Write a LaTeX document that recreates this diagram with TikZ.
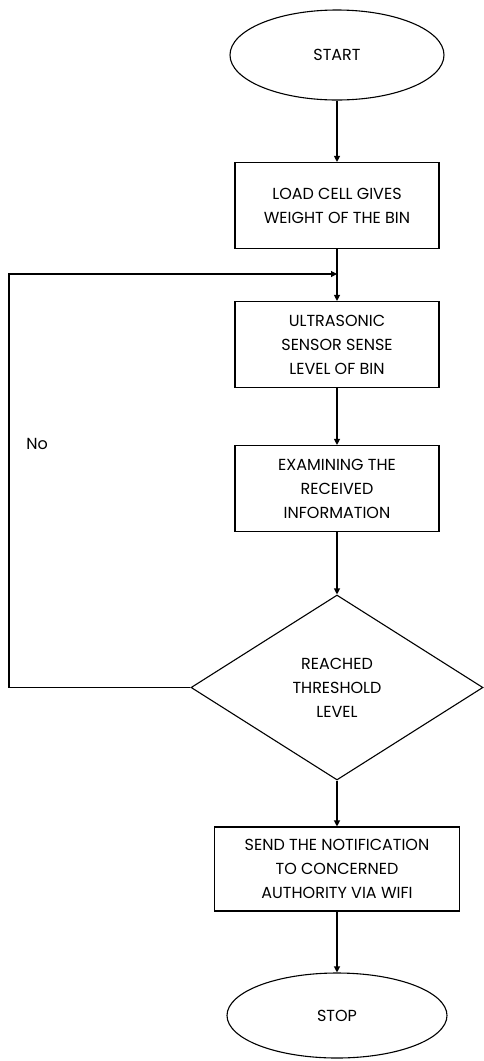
\documentclass[tikz,border=0pt]{standalone}
\usepackage{fontspec}
\setmainfont{Poppins}
\usepackage{tikz}
\usetikzlibrary{arrows.meta}
\usetikzlibrary{shapes,positioning}
\tikzset{>={Triangle[length=6pt,width=6pt]},
  stepbox/.style={draw,line width=1.1pt,align=center,
    minimum width=204pt,minimum height=86pt,inner sep=0pt},
  termnode/.style={draw,ellipse,line width=1.1pt,inner sep=0pt},
  decision/.style={draw,diamond,line width=1.1pt,align=center,inner sep=0pt,
    minimum width=292pt,minimum height=185pt}}

\begin{document}
\begin{tikzpicture}[font=\fontsize{16}{24}\selectfont,line width=1.1pt]
    \useasboundingbox (0pt,0pt) rectangle (484pt,-1061pt);

    \node (start) [termnode,minimum width=214pt,minimum height=90pt] at (337pt,-55pt) {START};
    \node (load) [stepbox,below of=start,node distance=150.5pt] {LOAD CELL GIVES\\WEIGHT OF THE BIN};
    \node (sense) [stepbox,below of=load,node distance=139pt] {ULTRASONIC\\SENSOR SENSE\\LEVEL OF BIN};
    \node (exam) [stepbox,below of=sense,node distance=144pt] {EXAMINING THE\\RECEIVED\\INFORMATION};
    \node (check) [decision,below of=exam,node distance=199pt] {REACHED\\THRESHOLD\\LEVEL};
    \node (send) [stepbox,minimum width=245pt,minimum height=84pt,below of=check,node distance=181.5pt]
      {SEND THE NOTIFICATION\\TO CONCERNED\\AUTHORITY VIA WIFI};
    \node (stop) [termnode,minimum width=220pt,minimum height=85pt,below of=send,node distance=146.5pt] {STOP};

    \coordinate (join) at (337pt,-274pt);
    \coordinate (turn) at (9pt,-274pt);
    \node (no) at (37pt,-444pt) {No};

    \path[->] (start) edge (load);
    \path[->] (load) edge (sense);
    \path[->] (sense) edge (exam);
    \path[->] (exam) edge (check);
    \path[->] (check) edge (send);
    \path[->] (send) edge (stop);
    \draw[->] (check.west) -| (turn) -- (join);
  \end{tikzpicture}
\end{document}
